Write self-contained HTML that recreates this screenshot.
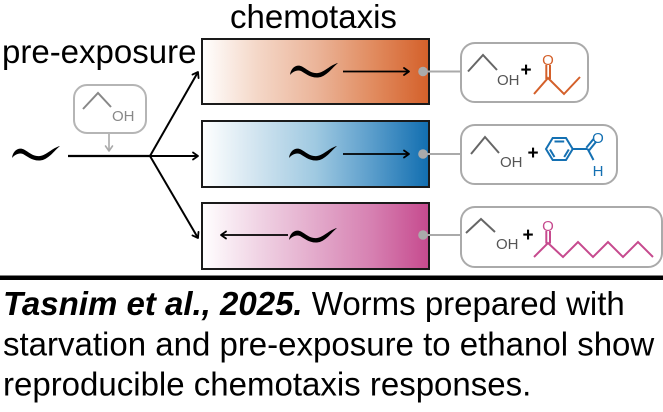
<!DOCTYPE html>
<html><head><meta charset="utf-8"><style>
html,body{margin:0;padding:0;background:#fff;}
svg{display:block;}
text{font-family:"Liberation Sans",Arial,sans-serif;}
</style></head><body>
<svg width="663" height="412" viewBox="0 0 663 412" xmlns="http://www.w3.org/2000/svg">
<defs>
<linearGradient id="gO" x1="0" x2="1" y1="0" y2="0">
<stop offset="0" stop-color="#ffffff"/><stop offset="0.25" stop-color="#f4d6c6"/><stop offset="0.5" stop-color="#ebb59a"/><stop offset="0.75" stop-color="#e18c60"/><stop offset="1" stop-color="#d4602a"/>
</linearGradient>
<linearGradient id="gB" x1="0" x2="1" y1="0" y2="0">
<stop offset="0" stop-color="#ffffff"/><stop offset="0.25" stop-color="#cfe3ef"/><stop offset="0.5" stop-color="#9fc9e1"/><stop offset="0.75" stop-color="#5a9dcb"/><stop offset="1" stop-color="#116eb0"/>
</linearGradient>
<linearGradient id="gP" x1="0" x2="1" y1="0" y2="0">
<stop offset="0" stop-color="#ffffff"/><stop offset="0.25" stop-color="#f0d3e4"/><stop offset="0.5" stop-color="#e3aacb"/><stop offset="0.75" stop-color="#d680b1"/><stop offset="1" stop-color="#c64a8e"/>
</linearGradient>
<marker id="ah" markerWidth="10" markerHeight="10" refX="8" refY="5" orient="auto" markerUnits="userSpaceOnUse">
<path d="M3,1.5 L8,5 L3,8.5" fill="none" stroke="#000" stroke-width="1.8" stroke-linecap="round" stroke-linejoin="round"/>
</marker>
<marker id="ahg" markerWidth="10" markerHeight="10" refX="8" refY="5" orient="auto" markerUnits="userSpaceOnUse">
<path d="M3,1.5 L8,5 L3,8.5" fill="none" stroke="#aaa" stroke-width="1.6" stroke-linecap="round" stroke-linejoin="round"/>
</marker>
<path id="worm" d="M0,12 C1,4 7,1 12,3.5 C17,6 21,11 28,10 C35,9 40,2 48,0 C42,5 36,14 28,14.5 C20,15 15,10 11,8 C7,6.5 3,8.5 0,12 Z"/>
</defs>

<!-- titles -->
<text x="2" y="63" font-size="33" fill="#000">pre-exposure</text>
<text x="230" y="28" font-size="33" fill="#000">chemotaxis</text>

<!-- left worm -->
<use href="#worm" x="12" y="146" fill="#000"/>

<!-- left ethanol box -->
<rect x="74" y="85" width="72" height="48" rx="13" ry="13" fill="#fff" stroke="#b5b5b5" stroke-width="2"/>
<polyline points="83,109 98,93 111,107" fill="none" stroke="#888" stroke-width="2"/>
<text x="112" y="121" font-size="15" fill="#888">OH</text>
<line x1="109" y1="134" x2="109" y2="151" stroke="#aaa" stroke-width="1.6" marker-end="url(#ahg)"/>

<!-- main line & branches -->
<line x1="68" y1="156" x2="150" y2="156" stroke="#000" stroke-width="2.2"/>
<line x1="150" y1="156" x2="198" y2="72" stroke="#000" stroke-width="2" marker-end="url(#ah)"/>
<line x1="150" y1="156" x2="198" y2="156" stroke="#000" stroke-width="2" marker-end="url(#ah)"/>
<line x1="150" y1="156" x2="198" y2="238" stroke="#000" stroke-width="2" marker-end="url(#ah)"/>

<!-- gradient boxes -->
<rect x="202" y="39" width="227" height="65" fill="url(#gO)" stroke="#1a1a1a" stroke-width="2"/>
<rect x="202" y="121" width="227" height="66" fill="url(#gB)" stroke="#1a1a1a" stroke-width="2"/>
<rect x="202" y="203" width="227" height="66" fill="url(#gP)" stroke="#1a1a1a" stroke-width="2"/>

<!-- worms & arrows in boxes -->
<use href="#worm" x="290" y="63" fill="#000"/>
<line x1="343" y1="71.5" x2="409" y2="71.5" stroke="#000" stroke-width="1.8" marker-end="url(#ah)"/>
<use href="#worm" x="289" y="146" fill="#000"/>
<line x1="343" y1="154" x2="409" y2="154" stroke="#000" stroke-width="1.8" marker-end="url(#ah)"/>
<use href="#worm" x="289" y="228" fill="#000"/>
<line x1="288" y1="235" x2="221" y2="235" stroke="#000" stroke-width="1.8" marker-end="url(#ah)"/>

<!-- dots and connectors -->
<line x1="423" y1="71.5" x2="461" y2="71.5" stroke="#aaa" stroke-width="2"/>
<circle cx="423" cy="71.5" r="4.8" fill="#aaa"/>
<line x1="423" y1="154" x2="461" y2="154" stroke="#aaa" stroke-width="2"/>
<circle cx="423" cy="154" r="4.8" fill="#aaa"/>
<line x1="423" y1="235" x2="461" y2="235" stroke="#aaa" stroke-width="2"/>
<circle cx="423" cy="235" r="4.8" fill="#aaa"/>

<!-- chem box 1 -->
<rect x="461" y="43" width="127" height="59" rx="14" ry="14" fill="#fff" stroke="#aaa" stroke-width="2"/>
<polyline points="468,71.5 483,55 497,70" fill="none" stroke="#666" stroke-width="2"/>
<text x="497" y="85" font-size="15" fill="#555">OH</text>
<text x="526" y="76" font-size="19" font-weight="bold" text-anchor="middle" fill="#000">+</text>
<g stroke="#d4602a" stroke-width="2" fill="none">
<polyline points="534,94 548,78 564,94 580,77"/>
<line x1="546.3" y1="79" x2="546.3" y2="65"/>
<line x1="550" y1="79" x2="550" y2="65"/>
</g>
<text x="548" y="65" font-size="15" fill="#d4602a" text-anchor="middle">O</text>

<!-- chem box 2 -->
<rect x="461" y="125" width="156" height="59" rx="14" ry="14" fill="#fff" stroke="#aaa" stroke-width="2"/>
<polyline points="471,154 485,137 499,153" fill="none" stroke="#666" stroke-width="2"/>
<text x="500" y="167" font-size="15" fill="#555">OH</text>
<text x="533" y="159" font-size="19" font-weight="bold" text-anchor="middle" fill="#000">+</text>
<g stroke="#1470b2" stroke-width="2" fill="none">
<polygon points="546,149 552.7,138 566,138 572.7,149 566,160 552.7,160"/>
<line x1="554.5" y1="141.5" x2="564.2" y2="141.5"/>
<line x1="568.8" y1="149.5" x2="564.2" y2="157"/>
<line x1="550" y1="149.5" x2="554.5" y2="157"/>
<line x1="572.7" y1="149" x2="587.7" y2="149"/>
<line x1="587.7" y1="149" x2="593.5" y2="160"/>
<line x1="586.3" y1="147.8" x2="593.5" y2="139"/>
<line x1="589.2" y1="150.3" x2="596.3" y2="141.5"/>
</g>
<text x="598" y="143" font-size="15" fill="#1470b2" text-anchor="middle">O</text>
<text x="598" y="176" font-size="15" fill="#1470b2" text-anchor="middle">H</text>

<!-- chem box 3 -->
<rect x="461" y="207" width="201" height="60" rx="14" ry="14" fill="#fff" stroke="#aaa" stroke-width="2"/>
<polyline points="466,233 481,219 495,232" fill="none" stroke="#666" stroke-width="2"/>
<text x="496" y="249" font-size="15" fill="#555">OH</text>
<text x="528" y="241" font-size="19" font-weight="bold" text-anchor="middle" fill="#000">+</text>
<g stroke="#c64a8e" stroke-width="2" fill="none">
<polyline points="534,257 548,243 563,257 578,242 593,257 608,242 623,257 638,242 653,257"/>
<line x1="546.3" y1="243.5" x2="546.3" y2="231"/>
<line x1="550" y1="243.5" x2="550" y2="231"/>
</g>
<text x="548" y="231" font-size="15" fill="#c64a8e" text-anchor="middle">O</text>

<!-- divider -->
<rect x="0" y="275.5" width="663" height="4.5" fill="#000"/>

<!-- caption -->
<text x="3" y="315" font-size="33" fill="#000"><tspan font-weight="bold" font-style="italic">Tasnim et al., 2025.</tspan> Worms prepared with</text>
<text x="3" y="355.5" font-size="33" fill="#000">starvation and pre-exposure to ethanol show</text>
<text x="3" y="395.5" font-size="33" fill="#000">reproducible chemotaxis responses.</text>
</svg>
</body></html>
